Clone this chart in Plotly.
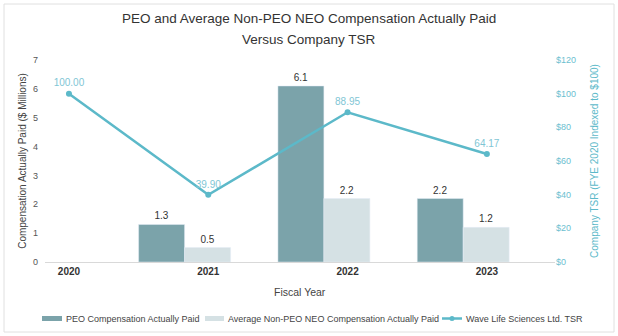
import plotly.graph_objects as go

years = ["2020", "2021", "2022", "2023"]
peo_cap = [None, 1.3, 6.1, 2.2]
neo_cap = [None, 0.5, 2.2, 1.2]
tsr = [100.00, 39.90, 88.95, 64.17]

names = ["PEO Compensation Actually Paid",
         "Average Non-PEO NEO Compensation Actually Paid",
         "Wave Life Sciences Ltd. TSR"]
colors = ["#7ba3aa", "#d5e1e4", "#5cb9c9"]
title_lines = ["PEO and Average Non-PEO NEO Compensation Actually Paid",
               "Versus Company TSR"]

xpos = list(range(len(years)))
FONT = "Liberation Sans, Arial, sans-serif"

# plot area in pixels
L, R, T, B = 45, 555, 60, 262
def px(x):
    return (x - L) / (R - L)
def py(y):
    return (B - y) / (B - T)

fig = go.Figure()
fig.add_trace(go.Bar(
    x=xpos, y=peo_cap, name=names[0],
    marker_color=colors[0], width=0.33, offset=-0.50,
    text=[f"{v:.1f}" if v else "" for v in peo_cap], textposition="outside",
    textfont=dict(size=10, color="#333333"), cliponaxis=False,
))
fig.add_trace(go.Bar(
    x=xpos, y=neo_cap, name=names[1],
    marker_color=colors[1], width=0.33, offset=-0.17,
    text=[f"{v:.1f}" if v else "" for v in neo_cap], textposition="outside",
    textfont=dict(size=10, color="#333333"), cliponaxis=False,
))
fig.add_trace(go.Scatter(
    x=xpos, y=tsr, name=names[2], yaxis="y2",
    mode="lines+markers+text", line=dict(color=colors[2], width=2.5),
    marker=dict(size=6, color=colors[2]),
    text=[f"{v:.2f}" for v in tsr], textposition="top center",
    textfont=dict(size=10, color="#7fc6d5"), cliponaxis=False,
))

fig.update_layout(
    width=618, height=336,
    margin=dict(l=L, r=618 - R, t=T, b=336 - B, autoexpand=False),
    paper_bgcolor="white", plot_bgcolor="white",
    font=dict(family=FONT, color="#444444"),
    barmode="overlay",
    showlegend=False,
    xaxis=dict(range=[-0.172, 3.489], tickvals=xpos,
               ticktext=[f"<b>{y}</b>" for y in years],
               tickfont=dict(size=10, color="#333333"),
               showgrid=False, showline=True, linecolor="#d9d9d9", linewidth=1,
               ticks="", zeroline=False),
    yaxis=dict(range=[0, 7], dtick=1, showgrid=False, zeroline=False, showline=False,
               tickfont=dict(size=9, color="#555555"), ticks="", ticklabelstandoff=6,
               title=dict(text="Compensation Actually Paid ($ Millions)",
                          font=dict(size=10, color="#444444"), standoff=4)),
    yaxis2=dict(range=[0, 120], dtick=20, overlaying="y", side="right",
                showgrid=False, zeroline=False, showline=False, tickprefix="$",
                tickfont=dict(size=9, color="#6cc0d0"), ticks="",
                title=dict(text="Company TSR (FYE 2020 Indexed to $100)",
                           font=dict(size=10, color="#5cb9c9"), standoff=15)),
)

# two-line title
for yy, line in zip([18, 40], title_lines):
    fig.add_annotation(text=line, xref="paper", yref="paper",
                       x=px(309), y=py(yy), xanchor="center", yanchor="middle",
                       showarrow=False, font=dict(size=13.5, color="#333333"))

fig.add_annotation(text="Fiscal Year", xref="paper", yref="paper",
                   x=0.5, y=py(292), xanchor="center", yanchor="middle",
                   showarrow=False, font=dict(size=10.5, color="#444444"))

# legend drawn manually (single row, like the reference)
ly = 318.5
fig.add_shape(type="rect", xref="paper", yref="paper",
              x0=px(42), x1=px(62), y0=py(321), y1=py(316),
              fillcolor=colors[0], line=dict(width=0))
fig.add_shape(type="rect", xref="paper", yref="paper",
              x0=px(205), x1=px(224), y0=py(321), y1=py(316),
              fillcolor=colors[1], line=dict(width=0))
fig.add_shape(type="line", xref="paper", yref="paper",
              x0=px(442), x1=px(462), y0=py(ly), y1=py(ly),
              line=dict(color=colors[2], width=2.5))
fig.add_shape(type="circle", xref="paper", yref="paper",
              x0=px(449.5), x1=px(454.5), y0=py(ly + 2.5), y1=py(ly - 2.5),
              fillcolor=colors[2], line=dict(width=0))
for xt, name in zip([63.5, 226, 463.5], names):
    fig.add_annotation(text=name, xref="paper", yref="paper",
                       x=px(xt), y=py(ly), xanchor="left", yanchor="middle",
                       showarrow=False, font=dict(size=9, color="#444444"))

fig.add_shape(type="rect", xref="paper", yref="paper",
              x0=px(4), x1=px(614), y0=py(332), y1=py(4),
              line=dict(color="#e0e0e0", width=1), layer="below")

fig.write_html("out.html")
